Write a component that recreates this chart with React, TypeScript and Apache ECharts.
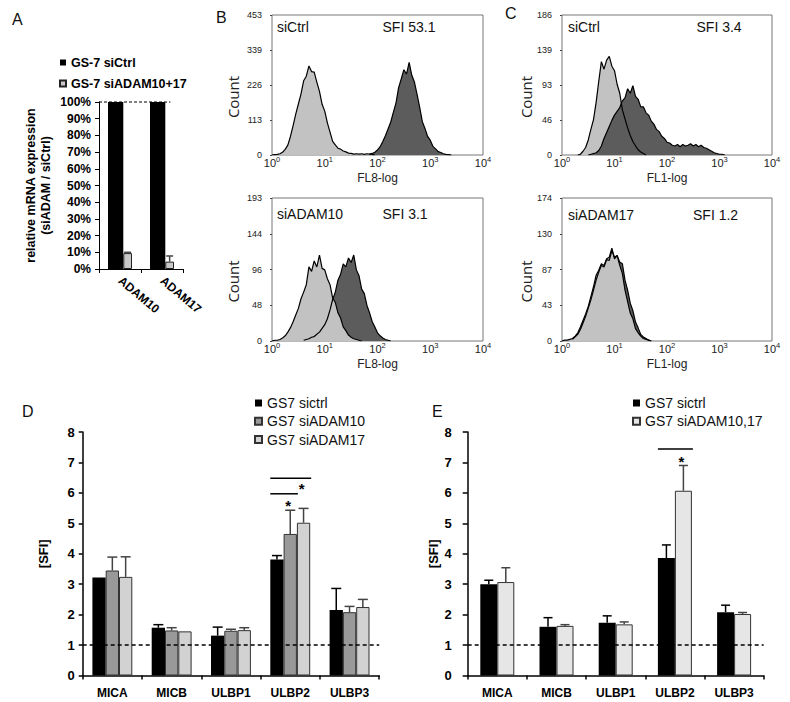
import React, { useEffect, useRef } from 'react';
import * as echarts from 'echarts';

const SANS = '"Liberation Sans", Arial, Helvetica, sans-serif';
const COUNT_FONT = '"Open Sans", "DejaVu Sans", sans-serif';

// ---------------- Panel A ----------------
const A_CATEGORIES = ['ADAM10', 'ADAM17'];
const A_SERIES_NAMES = ['GS-7 siCtrl', 'GS-7 siADAM10+17'];
const A_CTRL = [100, 100];
const A_KNOCKDOWN = [9.5, 4.4];
const A_KNOCKDOWN_ERR = [0.5, 3.4];
const A_REFERENCE = [100];

// ---------------- Panels B / C (histograms, log10 bins of 0.05) ----------------
const HIST_STEP = 0.05;
const HIST_Y_MAX = [453, 193, 186, 174];
const HIST_Y_LABELS = [
  ['0', '113', '226', '339', '453'],
  ['0', '48', '96', '144', '193'],
  ['0', '46', '93', '139', '186'],
  ['0', '43', '87', '130', '174'],
];
const HIST_SAMPLE = ['siCtrl', 'siADAM10', 'siCtrl', 'siADAM17'];
const HIST_SFI = ['SFI 53.1', 'SFI 3.1', 'SFI 3.4', 'SFI 1.2'];
const HIST_X_NAME = ['FL8-log', 'FL8-log', 'FL1-log', 'FL1-log'];

const B1_LIGHT_START = 0.0;
const B1_LIGHT = [0, 1, 2, 4, 9, 18, 32, 60, 95, 132, 165, 198, 240, 255, 288, 270, 268, 236, 206, 164, 142, 104, 74, 44, 33, 22, 19, 13, 10, 6, 5, 3, 4, 3, 4, 2, 4, 3, 2, 0];
const B1_DARK_START = 1.85;
const B1_DARK = [3, 5, 9, 16, 27, 44, 62, 84, 106, 138, 168, 218, 246, 276, 262, 300, 258, 236, 196, 154, 108, 86, 60, 48, 28, 20, 11, 8, 4, 2, 1, 0];

const B2_LIGHT_START = 0.0;
const B2_LIGHT = [0, 1, 1, 2, 4, 7, 12, 18, 26, 35, 44, 57, 66, 76, 100, 94, 108, 100, 116, 98, 96, 84, 76, 58, 52, 38, 31, 19, 14, 8, 5, 3, 2, 1, 0];
const B2_DARK_START = 0.6;
const B2_DARK = [1, 2, 3, 5, 6, 9, 12, 17, 22, 30, 42, 56, 66, 82, 90, 104, 100, 112, 106, 116, 96, 88, 70, 64, 48, 38, 26, 19, 11, 7, 4, 2, 1, 0];

const C1_LIGHT_START = 0.3;
const C1_LIGHT = [0, 1, 5, 10, 20, 34, 47, 70, 98, 124, 114, 126, 131, 118, 112, 94, 82, 60, 48, 36, 26, 18, 12, 7, 4, 2, 0];
const C1_DARK_START = 0.5;
const C1_DARK = [0, 1, 2, 3, 6, 12, 22, 30, 38, 46, 53, 58, 63, 72, 76, 88, 82, 92, 78, 74, 64, 64, 56, 53, 45, 41, 34, 31, 25, 22, 17, 16, 13, 12, 14, 11, 14, 12, 13, 15, 12, 14, 11, 13, 10, 9, 7, 5, 3, 2, 1, 1, 0];

const C2_LIGHT_START = 0.0;
const C2_LIGHT = [0, 1, 1, 2, 3, 6, 10, 17, 25, 33, 42, 54, 66, 80, 86, 94, 92, 100, 102, 113, 100, 104, 92, 82, 62, 48, 34, 27, 15, 10, 6, 3, 2, 1, 0];
const C2_DARK_START = 0.2;
const C2_DARK = [2, 5, 8, 14, 22, 30, 40, 50, 62, 74, 84, 92, 90, 99, 98, 110, 102, 104, 96, 94, 74, 62, 46, 37, 23, 16, 8, 5, 3, 1, 0];

// ---------------- Panels D / E ----------------
const LIGAND_CATEGORIES = ['MICA', 'MICB', 'ULBP1', 'ULBP2', 'ULBP3'];
const D_SERIES_NAMES = ['GS7 sictrl', 'GS7 siADAM10', 'GS7 siADAM17'];
const D_CTRL = [3.22, 1.57, 1.31, 3.81, 2.15];
const D_CTRL_ERR = [0, 0.1, 0.28, 0.13, 0.71];
const D_ADAM10 = [3.45, 1.48, 1.47, 4.65, 2.08];
const D_ADAM10_ERR = [0.44, 0.09, 0.05, 0.78, 0.19];
const D_ADAM17 = [3.24, 1.45, 1.49, 5.02, 2.25];
const D_ADAM17_ERR = [0.66, 0, 0.08, 0.47, 0.25];
// [category, bracket height, from bar, to bar, star height]
const D_SIGNIFICANCE = [
  [3, 6.48, 0, 2, 6.13],
  [3, 5.97, 0, 1, 5.6],
];

const E_SERIES_NAMES = ['GS7 sictrl', 'GS7 siADAM10,17'];
const E_CTRL = [3.0, 1.6, 1.73, 3.86, 2.08];
const E_CTRL_ERR = [0.13, 0.3, 0.23, 0.43, 0.23];
const E_ADAM1017 = [3.07, 1.63, 1.68, 6.07, 2.02];
const E_ADAM1017_ERR = [0.47, 0.04, 0.08, 0.83, 0.05];
const E_SIGNIFICANCE = [[3, 7.44, 0, 1, 7.02]];
const BASELINE = 1;

// ---------------- helpers ----------------
function offsets(widths: number[]) {
  const total = widths.reduce((a, b) => a + b, 0);
  let acc = -total / 2;
  return widths.map((w) => {
    const left = acc;
    acc += w;
    return { left, right: left + w, center: left + w / 2 };
  });
}

function errorSeries(gi: number, values: number[], errs: number[], offset: number, color: string, cap: number) {
  return {
    type: 'custom',
    xAxisIndex: gi,
    yAxisIndex: gi,
    silent: true,
    z: 4,
    encode: { x: 0, y: 1 },
    data: values.map((v, i) => [i, v, errs[i]]),
    renderItem: (params: any, api: any) => {
      const i = api.value(0);
      const v = api.value(1);
      const e = api.value(2);
      if (!e) return { type: 'group', children: [] };
      const p0 = api.coord([i, v]);
      const p1 = api.coord([i, v + e]);
      const x = p0[0] + offset;
      const style = { stroke: color, lineWidth: 1.5 };
      return {
        type: 'group',
        children: [
          { type: 'line', shape: { x1: x, y1: p0[1], x2: x, y2: p1[1] }, style },
          { type: 'line', shape: { x1: x - cap / 2, y1: p1[1], x2: x + cap / 2, y2: p1[1] }, style },
        ],
      };
    },
  };
}

function sigSeries(gi: number, data: number[][], widths: number[]) {
  const off = offsets(widths);
  return {
    type: 'custom',
    xAxisIndex: gi,
    yAxisIndex: gi,
    silent: true,
    z: 5,
    encode: { x: 0, y: 1 },
    data,
    renderItem: (params: any, api: any) => {
      const cat = api.value(0);
      const ly = api.value(1);
      const from = api.value(2);
      const to = api.value(3);
      const sy = api.value(4);
      const c = api.coord([cat, ly]);
      const s = api.coord([cat, sy]);
      return {
        type: 'group',
        children: [
          {
            type: 'line',
            shape: { x1: c[0] + off[from].left, y1: c[1], x2: c[0] + off[to].right + 1, y2: c[1] },
            style: { stroke: '#000', lineWidth: 1.5 },
          },
          {
            type: 'text',
            x: c[0] + off[to].center - 2,
            y: s[1],
            style: { text: '*', fill: '#000', font: 'bold 15px ' + SANS, align: 'center', verticalAlign: 'middle' },
          },
        ],
      };
    },
  };
}

function histSeries(name: string, gi: number, start: number, counts: number[], fill: string) {
  return {
    type: 'line',
    name,
    xAxisIndex: gi,
    yAxisIndex: gi,
    symbol: 'none',
    showSymbol: false,
    silent: true,
    data: counts.map((c, i) => [Math.pow(10, start + i * HIST_STEP), c]),
    lineStyle: { color: '#000', width: 1.2 },
    areaStyle: { color: fill, opacity: 1 },
  };
}

const HIST_GRIDS = [
  { left: 272, top: 15, width: 211, height: 140 },
  { left: 272, top: 198, width: 211, height: 143 },
  { left: 562, top: 15, width: 210, height: 140 },
  { left: 562, top: 198, width: 210, height: 143 },
];
const COUNT_GAPS = [32, 32, 28, 28];

function buildOption() {
  const grids: any[] = [
    { left: 99, top: 102, width: 84, height: 167 },
    ...HIST_GRIDS.map((g) => ({ ...g, show: true, borderColor: '#777', borderWidth: 1, backgroundColor: 'transparent' })),
    { left: 82.7, top: 432, width: 296.5, height: 243.5 },
    { left: 467.7, top: 432, width: 296, height: 243.5 },
  ];

  const xAxes: any[] = [];
  const yAxes: any[] = [];

  // Panel A axes
  xAxes.push({
    type: 'category',
    gridIndex: 0,
    data: A_CATEGORIES,
    axisLine: { show: true, lineStyle: { color: '#000', width: 1 } },
    axisTick: { show: true, length: 4, lineStyle: { color: '#000' } },
    axisLabel: { rotate: -40, interval: 0, margin: 10, fontFamily: SANS, fontWeight: 'bold', fontSize: 12, color: '#000' },
  });
  yAxes.push({
    type: 'value',
    gridIndex: 0,
    min: 0,
    max: 100,
    interval: 10,
    splitLine: { show: false },
    axisLine: { show: true, lineStyle: { color: '#000', width: 1 } },
    axisTick: { show: true, length: 4, lineStyle: { color: '#000' } },
    axisLabel: { formatter: '{value}%', margin: 8, fontFamily: SANS, fontWeight: 'bold', fontSize: 12, color: '#000' },
    name: 'relative mRNA expression\n(siADAM / siCtrl)',
    nameLocation: 'middle',
    nameRotate: 90,
    nameGap: 46,
    nameTextStyle: { fontFamily: SANS, fontWeight: 'bold', fontSize: 12.5, lineHeight: 15, color: '#000' },
  });

  // Histogram axes
  HIST_GRIDS.forEach((_, k) => {
    const gi = k + 1;
    const max = HIST_Y_MAX[k];
    const step = max / 4;
    xAxes.push({
      type: 'log',
      logBase: 10,
      gridIndex: gi,
      min: 1,
      max: 10000,
      name: HIST_X_NAME[k],
      nameLocation: 'middle',
      nameGap: 16,
      nameTextStyle: { fontFamily: SANS, fontSize: 12, color: '#222' },
      axisLine: { show: false },
      axisTick: { show: false },
      minorTick: { show: false },
      splitLine: { show: false },
      axisLabel: {
        margin: 0,
        fontFamily: SANS,
        fontSize: 11,
        color: '#222',
        lineHeight: 16,
        formatter: (v: number) => '10{s|' + Math.round(Math.log10(v)) + '}',
        rich: { s: { fontFamily: SANS, fontSize: 7.5, color: '#222', verticalAlign: 'top', lineHeight: 8 } },
      },
    });
    yAxes.push({
      type: 'value',
      gridIndex: gi,
      min: 0,
      max,
      interval: step,
      splitLine: { show: false },
      axisLine: { show: false },
      axisTick: { show: true, length: 2, lineStyle: { color: '#444' } },
      axisLabel: {
        margin: 10,
        fontFamily: SANS,
        fontSize: 9,
        color: '#222',
        formatter: (v: number) => HIST_Y_LABELS[k][Math.round(v / step)] ?? '',
      },
      name: 'Count',
      nameLocation: 'middle',
      nameRotate: 90,
      nameGap: COUNT_GAPS[k],
      nameTextStyle: { fontFamily: COUNT_FONT, fontSize: 15, color: '#222', padding: [0, 24, 0, 0] },
    });
  });

  // D and E axes
  [5, 6].forEach((gi) => {
    xAxes.push({
      type: 'category',
      gridIndex: gi,
      data: LIGAND_CATEGORIES,
      axisLine: { show: true, lineStyle: { color: '#000', width: 1.5 } },
      axisTick: { show: true, length: 4, lineStyle: { color: '#000', width: 1.5 } },
      axisLabel: { interval: 0, margin: 11, fontFamily: SANS, fontWeight: 'bold', fontSize: 12, color: '#000' },
    });
    yAxes.push({
      type: 'value',
      gridIndex: gi,
      min: 0,
      max: 8,
      interval: 1,
      splitLine: { show: false },
      axisLine: { show: true, lineStyle: { color: '#000', width: 1.5 } },
      axisTick: { show: true, length: gi === 5 ? 4 : 5, lineStyle: { color: '#000', width: 1.5 } },
      axisLabel: { margin: gi === 5 ? 8 : 16, fontFamily: SANS, fontWeight: 'bold', fontSize: 13, color: '#000' },
      name: '[SFI]',
      nameLocation: 'middle',
      nameRotate: 90,
      nameGap: gi === 5 ? 33 : 28,
      nameTextStyle: { fontFamily: SANS, fontWeight: 'bold', fontSize: 13, color: '#000' },
    });
  });

  const series: any[] = [];

  // Panel A
  const aWidths = [15.3, 8.7];
  const aOff = offsets(aWidths);
  series.push({
    type: 'bar', name: A_SERIES_NAMES[0], xAxisIndex: 0, yAxisIndex: 0, data: A_CTRL,
    barWidth: aWidths[0], barGap: '0%', itemStyle: { color: '#000' },
  });
  series.push({
    type: 'bar', name: A_SERIES_NAMES[1], xAxisIndex: 0, yAxisIndex: 0, data: A_KNOCKDOWN,
    barWidth: aWidths[1], barGap: '0%', itemStyle: { color: '#c8c8c8', borderColor: '#222', borderWidth: 1 },
  });
  series.push(errorSeries(0, A_KNOCKDOWN, A_KNOCKDOWN_ERR, aOff[1].center, '#444', 7));
  series.push({
    type: 'custom', xAxisIndex: 0, yAxisIndex: 0, silent: true, z: 6, encode: { x: 0, y: 1 },
    data: A_REFERENCE.map((v) => [0, v]),
    renderItem: (params: any, api: any) => {
      const y = api.coord([0, api.value(1)])[1];
      const cs = params.coordSys;
      return {
        type: 'line',
        shape: { x1: cs.x, y1: y, x2: cs.x + cs.width * 0.85, y2: y },
        style: { stroke: '#000', lineWidth: 1.2, lineDash: [3, 2] },
      };
    },
  });

  // Histograms (draw order decides which fill is on top)
  series.push(histSeries('B1 control', 1, B1_LIGHT_START, B1_LIGHT, '#c2c2c2'));
  series.push(histSeries('B1 stain', 1, B1_DARK_START, B1_DARK, '#5c5c5c'));
  series.push(histSeries('B2 stain', 2, B2_DARK_START, B2_DARK, '#5c5c5c'));
  series.push(histSeries('B2 control', 2, B2_LIGHT_START, B2_LIGHT, '#c2c2c2'));
  series.push(histSeries('C1 control', 3, C1_LIGHT_START, C1_LIGHT, '#c2c2c2'));
  series.push(histSeries('C1 stain', 3, C1_DARK_START, C1_DARK, '#5c5c5c'));
  series.push(histSeries('C2 stain', 4, C2_DARK_START, C2_DARK, '#5c5c5c'));
  series.push(histSeries('C2 control', 4, C2_LIGHT_START, C2_LIGHT, '#c2c2c2'));

  // Panel D
  const dWidths = [13.3, 13.3, 13.3];
  const dOff = offsets(dWidths);
  const dVals = [D_CTRL, D_ADAM10, D_ADAM17];
  const dErrs = [D_CTRL_ERR, D_ADAM10_ERR, D_ADAM17_ERR];
  const dColors = ['#000', '#999999', '#d2d2d2'];
  dVals.forEach((vals, k) => {
    series.push({
      type: 'bar', name: D_SERIES_NAMES[k], xAxisIndex: 5, yAxisIndex: 5, data: vals,
      barWidth: dWidths[k], barGap: '0%',
      itemStyle: k === 0 ? { color: dColors[k] } : { color: dColors[k], borderColor: '#333', borderWidth: 1 },
      markLine: k === 0 ? {
        silent: true, symbol: ['none', 'none'], label: { show: false },
        lineStyle: { color: '#000', width: 1.5, type: [4, 3] },
        data: [{ yAxis: BASELINE }],
      } : undefined,
    });
  });
  dVals.forEach((vals, k) => {
    series.push(errorSeries(5, vals, dErrs[k], dOff[k].center, k === 0 ? '#000' : '#444', 10));
  });
  series.push(sigSeries(5, D_SIGNIFICANCE, dWidths));

  // Panel E
  const eWidths = [17, 17];
  const eOff = offsets(eWidths);
  const eVals = [E_CTRL, E_ADAM1017];
  const eErrs = [E_CTRL_ERR, E_ADAM1017_ERR];
  const eColors = ['#000', '#e6e6e6'];
  eVals.forEach((vals, k) => {
    series.push({
      type: 'bar', name: E_SERIES_NAMES[k], xAxisIndex: 6, yAxisIndex: 6, data: vals,
      barWidth: eWidths[k], barGap: '0%',
      itemStyle: k === 0 ? { color: eColors[k] } : { color: eColors[k], borderColor: '#333', borderWidth: 1 },
      markLine: k === 0 ? {
        silent: true, symbol: ['none', 'none'], label: { show: false },
        lineStyle: { color: '#000', width: 1.5, type: [4, 3] },
        data: [{ yAxis: BASELINE }],
      } : undefined,
    });
  });
  eVals.forEach((vals, k) => {
    series.push(errorSeries(6, vals, eErrs[k], eOff[k].center, k === 0 ? '#000' : '#444', 9));
  });
  series.push(sigSeries(6, E_SIGNIFICANCE, eWidths));

  const letter = (text: string, left: number, top: number) => ({
    text, left, top, padding: 0,
    textStyle: { fontFamily: SANS, fontSize: 16, fontWeight: 'normal', color: '#111' },
  });
  const note = (text: string, left: number, top: number) => ({
    text, left, top, padding: 0,
    textStyle: { fontFamily: SANS, fontSize: 14, fontWeight: 'normal', color: '#111' },
  });

  const titles = [
    letter('A', 12, 11),
    letter('B', 216, 9),
    letter('C', 505, 5),
    letter('D', 22, 403),
    letter('E', 432, 403),
    note(HIST_SAMPLE[0], 277, 20),
    note(HIST_SFI[0], 382.5, 20),
    note(HIST_SAMPLE[1], 277, 207),
    note(HIST_SFI[1], 382.5, 207),
    note(HIST_SAMPLE[2], 568, 20),
    note(HIST_SFI[2], 696.5, 20),
    note(HIST_SAMPLE[3], 568, 208),
    note(HIST_SFI[3], 693, 208),
  ];

  const legends = [
    {
      data: A_SERIES_NAMES, left: 54, top: 51, orient: 'vertical', icon: 'rect', itemWidth: 6, itemHeight: 6, itemGap: 8,
      selectedMode: false,
      textStyle: { fontFamily: SANS, fontWeight: 'bold', fontSize: 12.5, lineHeight: 13, color: '#000' },
    },
    {
      data: D_SERIES_NAMES, left: 249, top: 391, orient: 'vertical', icon: 'rect', itemWidth: 7, itemHeight: 7, itemGap: 4.3,
      selectedMode: false,
      textStyle: { fontFamily: SANS, fontSize: 14, lineHeight: 14, color: '#111' },
    },
    {
      data: E_SERIES_NAMES, left: 627, top: 391, orient: 'vertical', icon: 'rect', itemWidth: 7, itemHeight: 7, itemGap: 4.3,
      selectedMode: false,
      textStyle: { fontFamily: SANS, fontSize: 14, lineHeight: 14, color: '#111' },
    },
  ];

  return {
    animation: false,
    backgroundColor: '#fff',
    title: titles,
    legend: legends,
    grid: grids,
    xAxis: xAxes,
    yAxis: yAxes,
    series,
  };
}

export default function App() {
  const ref = useRef<HTMLDivElement>(null);
  useEffect(() => {
    document.body.style.margin = '0';
    const chart = echarts.init(ref.current as HTMLDivElement, null, { renderer: 'svg' });
    chart.setOption(buildOption() as any);
    return () => chart.dispose();
  }, []);
  return <div ref={ref} style={{ width: 790, height: 702 }} />;
}
